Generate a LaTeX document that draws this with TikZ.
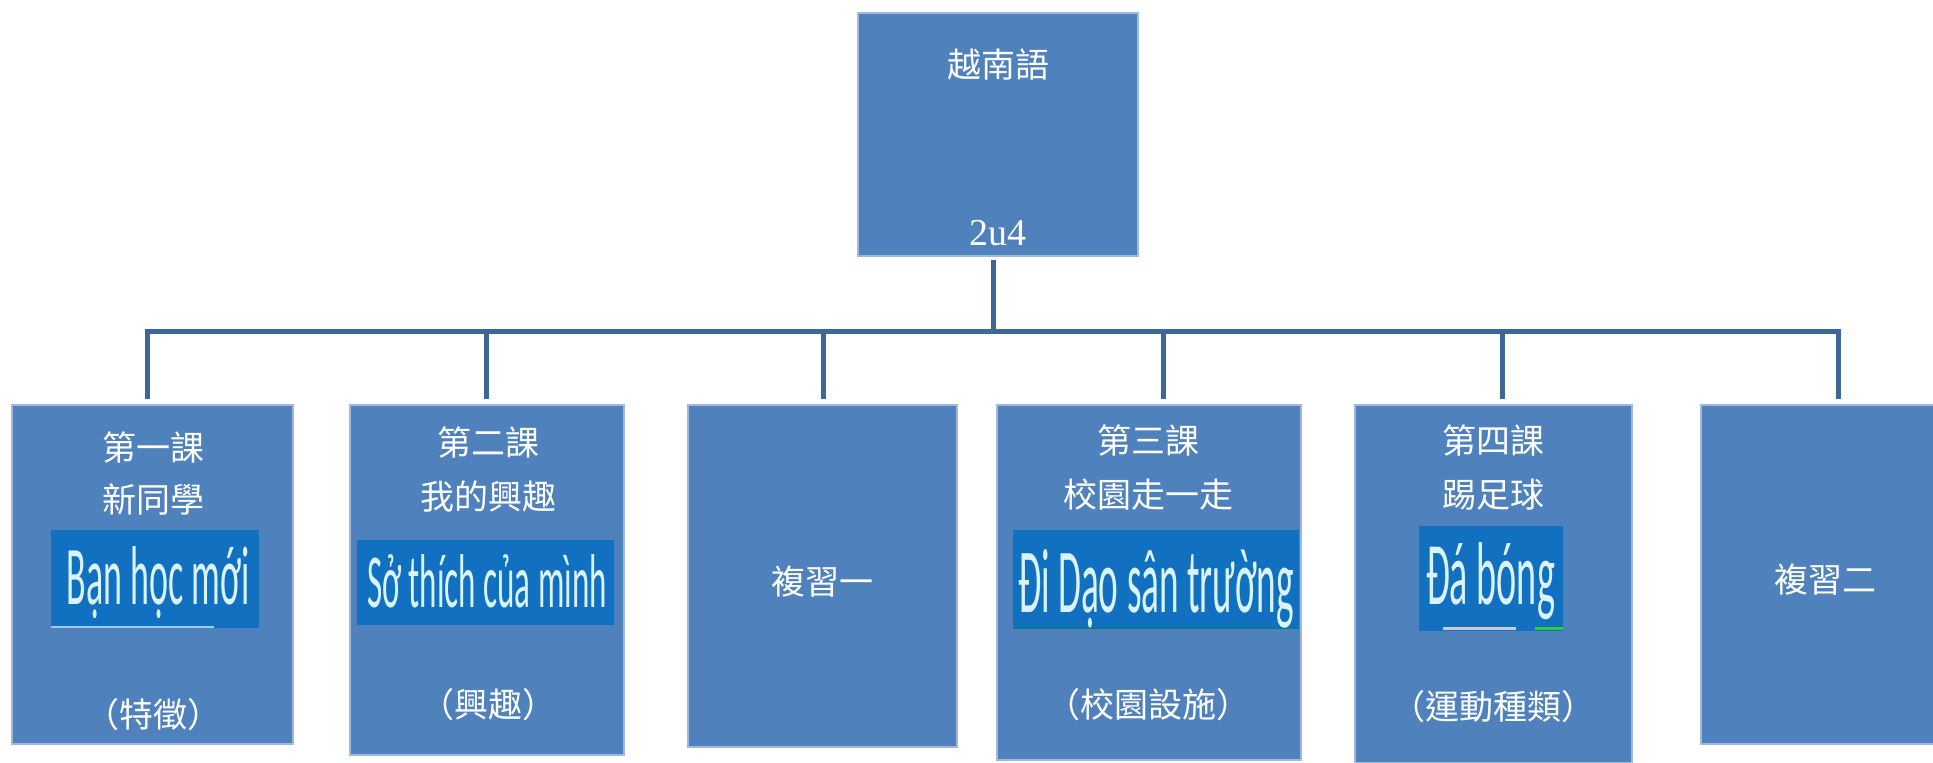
\documentclass[tikz,border=0pt]{standalone}
\usepackage{fontspec}
\usepackage{graphicx}
\newfontfamily\cjkfont{Noto Sans CJK TC}
\newfontfamily\vnfont{Carlito}
\newfontfamily\codefont{Liberation Serif}
\usetikzlibrary{positioning}
\usetikzlibrary{calc}

\definecolor{boxblue}{HTML}{4F81BD}
\definecolor{linkblue}{HTML}{3E6696}
\definecolor{insetblue}{HTML}{1270C0}
\definecolor{glowcyan}{HTML}{D9F4FF}

\newdimen\px \px=0.5pt
\newcommand\vnword[3]{\resizebox{#1\px}{#2\px}{\vnfont #3}}

\tikzset{
  lesson/.style 2 args={fill=boxblue, draw=boxblue!55!white, line width=0.6pt,
    minimum width=#1\px, minimum height=#2\px, inner sep=0pt},
  inset/.style 2 args={fill=insetblue, minimum width=#1\px, minimum height=#2\px, inner sep=0pt},
  cjk/.style={text=white, inner sep=0pt, font=\cjkfont\fontsize{17pt}{20pt}\selectfont},
  vn/.style={text=glowcyan, inner sep=0pt, anchor=base},
  link/.style={draw=linkblue, line width=5\px, line cap=rect},
}

\begin{document}
\begin{tikzpicture}[x=0.5pt, y=-0.5pt]

    \clip (0, 0) rectangle (1933, 763);
    \fill[white] (0, 0) rectangle (1933, 763);

    % Language
    \node[lesson={280}{243}] (lang) at (998, 134.5) {};
    \node[cjk] (langName) at (998, 65) {越南語};
    \node[text=white, inner sep=0pt, font=\codefont\fontsize{19pt}{22pt}\selectfont] (langCode) at (998, 233) {2u4};

    % Lessons
    \node[lesson={281}{339}] (b1) at (152.5, 574.5) {};
    \node[lesson={274}{350}] (b2) at (487, 580) {};
    \node[lesson={269}{342}] (b3) at (822.5, 576) {};
    \node[lesson={304}{355}] (b4) at (1149, 582.5) {};
    \node[lesson={277}{358}] (b5) at (1493.5, 584) {};
    \node[lesson={274}{339}] (b6) at (1838, 574.5) {};

    % Tree
    \coordinate (hub) at (993, 332);
    \coordinate (d1) at (147, 332);
    \coordinate (d2) at (486, 332);
    \coordinate (d3) at (823, 332);
    \coordinate (d4) at (1163, 332);
    \coordinate (d5) at (1502, 332);
    \coordinate (d6) at (1838, 332);
    \draw[link, shorten <=6\px] (hub |- lang.south) -- (hub);
    \draw[link] (d1) -- (d6);
    \draw[link, shorten >=8\px] (d1) -- (d1 |- b1.north);
    \draw[link, shorten >=8\px] (d2) -- (d2 |- b2.north);
    \draw[link, shorten >=8\px] (d3) -- (d3 |- b3.north);
    \draw[link, shorten >=8\px] (d4) -- (d4 |- b4.north);
    \draw[link, shorten >=8\px] (d5) -- (d5 |- b5.north);
    \draw[link, shorten >=8\px] (d6) -- (d6 |- b6.north);

    % Lesson 1
    \node[cjk] (t1) at (153, 447) {第一課};
    \node[cjk] (n1) at (153, 500) {新同學};
    \node[inset={208}{98}] (i1) at (155, 579) {};
    \draw[draw=glowcyan!70!insetblue, line width=2\px] (51, 627) -- (214, 627);
    \node[vn] (v1) at (158, 605) {\vnword{183}{58}{Bạn học mới}};
    \node[cjk] (k1) at (153, 715) {（特徵）};

    % Lesson 2
    \node[cjk] (t2) at (488, 442) {第二課};
    \node[cjk] (n2) at (488, 497) {我的興趣};
    \node[inset={257}{85}] (i2) at (485.5, 582.5) {};
    \node[vn] (v2) at (487, 608) {\vnword{240}{53}{Sở thích của mình}};
    \node[cjk] (k2) at (488, 705) {（興趣）};

    % Review 1
    \node[cjk] (r1) at (822, 582) {複習一};

    % Lesson 3
    \node[cjk] (t3) at (1148, 440) {第三課};
    \node[cjk] (n3) at (1148, 495) {校園走一走};
    \node[inset={286}{99}] (i3) at (1156, 579.5) {};
    \draw[draw=teal!70!insetblue, line width=2\px] (1013, 628) -- (1299, 628);
    \node[vn] (v3) at (1156, 613) {\vnword{276}{63}{Đi Dạo sân trường}};
    \node[cjk] (k3) at (1148, 705) {（校園設施）};

    % Lesson 4
    \node[cjk] (t4) at (1493, 440) {第四課};
    \node[cjk] (n4) at (1493, 495) {踢足球};
    \node[inset={144}{105}] (i4) at (1491, 578.5) {};
    \draw[draw=gray!40, line width=3\px] (1443, 629) -- (1516, 629);
    \draw[draw=green!60!gray, line width=3\px] (1535, 629) -- (1563, 629);
    \node[vn] (v4) at (1490.5, 605) {\vnword{129}{62}{Đá bóng}};
    \node[cjk] (k4) at (1493, 707) {（運動種類）};

    % Review 2
    \node[cjk] (r2) at (1825, 580) {複習二};

\end{tikzpicture}
\end{document}
